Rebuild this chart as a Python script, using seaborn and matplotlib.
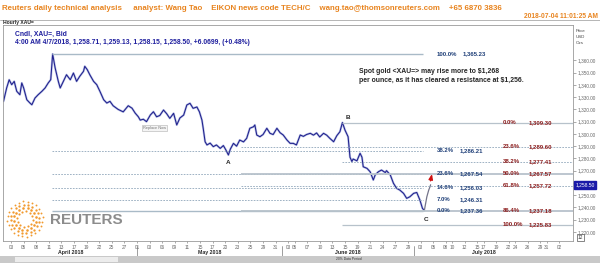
import numpy as np
import pandas as pd
import matplotlib.pyplot as plt
import seaborn as sns

# hourly XAU= bid, sampled from the chart; x = trading days since Mon 2 Apr 2018
t_day = [-0.2, 0.3, 0.7, 1.1, 1.5, 1.9, 2.4, 2.7, 3.0, 3.5, 4.0, 4.3, 4.8, 5.3, 5.9, 6.4,
         6.9, 7.3, 7.6, 8.0, 8.5, 8.8, 9.3, 9.8, 10.4, 10.9, 11.4, 11.9, 12.5, 12.7, 13.1,
         13.5, 14.1, 14.6, 15.1, 15.7, 16.2, 16.7, 17.2, 18.0, 18.8, 19.6, 20.2, 20.7, 21.2,
         21.5, 22.0, 22.5, 23.1, 23.6, 24.1, 24.6, 25.2, 25.7, 26.2, 26.8, 27.3, 27.8, 28.4,
         28.9, 29.4, 29.9, 30.5, 30.9, 31.3, 31.5, 31.8, 32.1, 32.6, 33.1, 33.6, 34.2, 34.7,
         35.1, 35.5, 35.8, 36.3, 36.8, 37.3, 37.9, 38.4, 38.9, 39.5, 39.7, 40.0, 40.5, 41.0,
         41.6, 42.1, 42.6, 43.2, 43.7, 44.2, 44.8, 45.3, 45.8, 46.3, 46.9, 47.4, 47.9, 48.5,
         49.0, 49.5, 50.0, 50.6, 51.1, 51.6, 52.2, 52.7, 53.2, 53.6, 54.0, 54.5, 54.8, 55.1,
         55.3, 55.9, 56.4, 56.7, 56.9, 57.5, 58.0, 58.5, 58.8, 59.3, 59.8, 60.4, 60.6, 61.2,
         61.7, 62.2, 62.7, 63.3, 63.8, 64.3, 64.9, 65.4, 65.9, 66.3, 66.6, 67.0, 67.3, 67.5,
         67.6]
price = [1326.6, 1337.5, 1344.2, 1340.2, 1342.9, 1334.8, 1332.0, 1341.6, 1337.5, 1327.9,
         1325.2, 1323.8, 1329.3, 1332.0, 1334.8, 1337.5, 1341.6, 1344.3, 1365.2, 1353.8,
         1342.9, 1337.5, 1342.9, 1348.3, 1344.2, 1349.7, 1342.9, 1347.0, 1351.1, 1355.2,
         1352.4, 1348.3, 1342.9, 1340.2, 1334.8, 1327.9, 1325.2, 1326.6, 1323.0, 1320.0,
         1318.0, 1323.0, 1321.0, 1317.0, 1314.0, 1311.3, 1312.0, 1310.0, 1315.4, 1318.1,
         1314.0, 1315.0, 1319.5, 1316.5, 1312.7, 1316.8, 1307.3, 1313.0, 1315.4, 1323.6,
         1325.0, 1320.9, 1322.0, 1318.0, 1311.3, 1304.6, 1293.6, 1291.0, 1292.5, 1289.6,
         1291.0, 1288.2, 1290.5, 1286.9, 1282.8, 1287.5, 1292.3, 1290.0, 1295.0, 1293.5,
         1296.4, 1304.6, 1305.9, 1307.3, 1299.1, 1297.7, 1299.5, 1304.6, 1300.5, 1299.5,
         1304.6, 1301.0, 1299.1, 1295.0, 1292.3, 1292.3, 1291.0, 1299.1, 1298.0, 1299.5,
         1300.5, 1299.0, 1300.8, 1297.5, 1300.5, 1299.0, 1296.4, 1293.6, 1298.5, 1301.8,
         1309.3, 1303.2, 1297.7, 1281.0, 1277.5, 1279.5, 1278.0, 1284.2, 1281.0, 1273.2,
         1271.9, 1269.1, 1262.4, 1266.5, 1269.1, 1270.5, 1268.5, 1270.0, 1266.5, 1259.7,
         1255.6, 1254.2, 1251.5, 1247.4, 1248.7, 1251.5, 1252.2, 1246.0, 1239.3, 1237.4,
         1248.7, 1254.2, 1256.9, 1258.5]
last_price = 1258.50

# Fibonacci set drawn from the April high down to the July low (blue labels)
fib1_pct = ["100.0%", "38.2%", "23.6%", "14.6%", "7.0%", "0.0%"]
fib1_val = [1365.23, 1286.21, 1267.54, 1256.03, 1246.31, 1237.36]
# Fibonacci set drawn from point B (red labels)
fib2_pct = ["0.0%", "23.6%", "38.2%", "50.0%", "61.8%", "86.4%", "100.0%"]
fib2_val = [1309.30, 1289.60, 1277.41, 1267.57, 1257.72, 1237.18, 1225.83]

wave_labels = ["A", "B", "C"]
wave_day = [35.5, 54.5, 66.9]
wave_price = [1277.0, 1313.8, 1230.5]

tick_dates = ["2018-04-03", "2018-04-05", "2018-04-08", "2018-04-11", "2018-04-13",
              "2018-04-17", "2018-04-19", "2018-04-22", "2018-04-25", "2018-04-27",
              "2018-05-01", "2018-05-03", "2018-05-06", "2018-05-09", "2018-05-11",
              "2018-05-15", "2018-05-17", "2018-05-20", "2018-05-23", "2018-05-25",
              "2018-05-29", "2018-05-31", "2018-06-03", "2018-06-05", "2018-06-07",
              "2018-06-10", "2018-06-13", "2018-06-15", "2018-06-19", "2018-06-21",
              "2018-06-24", "2018-06-27", "2018-06-29", "2018-07-03", "2018-07-05",
              "2018-07-08", "2018-07-10", "2018-07-12", "2018-07-15", "2018-07-17",
              "2018-07-19", "2018-07-22", "2018-07-24", "2018-07-26", "2018-07-29",
              "2018-07-31", "2018-08-02"]
months = ["April 2018", "May 2018", "June 2018", "July 2018"]
month_starts = ["2018-04-02", "2018-05-01", "2018-06-01", "2018-07-01", "2018-08-01"]
y_ticks = list(range(1220, 1361, 10))

ORANGE = "#e8841f"
NAVY = "#20208c"
FIB1_C = "#1f3f78"
FIB2_C = "#8c1c1c"
LINE_C = "#8fa6ba"

W, H = 600, 263


def px(x, y):
    return x / W, 1 - y / H


def trading_day(d):
    return np.busday_count("2018-04-02", d)


sns.set_style("white")
plt.rcParams["font.family"] = ["Liberation Sans", "DejaVu Sans"]

fig = plt.figure(figsize=(6, 2.63), dpi=100)
ax = fig.add_axes([3 / W, 1 - 241 / H, 570 / W, 216 / H])

df = pd.DataFrame({"day": t_day, "price": price})
i_low = int(np.argmin(price))
old = df.iloc[: i_low + 1]
new = df.iloc[i_low:]

# light halo under the line, like the candle bodies
sns.lineplot(data=old, x="day", y="price", ax=ax, color="#b9c1e6", lw=1.6, sort=False)
sns.lineplot(data=old, x="day", y="price", ax=ax, color=NAVY, lw=0.75, sort=False)
sns.lineplot(data=new, x="day", y="price", ax=ax, color="#74748a", lw=0.9, sort=False)

ax.set_xlim(-0.28, 90.2)
ax.set_ylim(1212.6, 1388.9)

# fib set 1: from the April high to line end around C
x1_start, x1_end = 7.5, 66.4
for pct, v in zip(fib1_pct, fib1_val):
    solid = pct in ("100.0%", "0.0%")
    ax.hlines(v, x1_start, x1_end, color="#a9bac7" if solid else LINE_C,
              lw=1.0 if solid else 0.6, linestyles="-" if solid else (0, (2, 1.5)))
    ax.text(68.6, v, pct, color=FIB1_C, fontsize=4.3, fontweight="bold", va="center")
    ax.text(72.7 if pct == "100.0%" else 72.2, v, f"{v:,.2f}", color=FIB1_C,
            fontsize=4.3, fontweight="bold", va="center")

# fib set 2: from B, running to the right edge
for pct, v in zip(fib2_pct, fib2_val):
    solid = pct in ("0.0%", "50.0%", "86.4%", "100.0%")
    start = 53.6 if pct in ("0.0%", "38.2%", "100.0%") else 37.5
    ax.hlines(v, start, 90.2, color="#b7c2cb" if solid else LINE_C,
              lw=1.3 if pct in ("50.0%", "86.4%") else (0.9 if solid else 0.6),
              linestyles="-" if solid else (0, (2, 1.5)))
    ax.text(79.1, v, pct, color=FIB2_C, fontsize=4.3, fontweight="bold", va="center")
    ax.text(83.1, v, f"{v:,.2f}", color=FIB2_C, fontsize=4.3, fontweight="bold",
            va="center")

for lab, d, p in zip(wave_labels, wave_day, wave_price):
    ax.text(d, p, lab, fontsize=4.6, fontweight="bold", ha="center", va="center")

ax.annotate("", xy=(67.9, 1269.5), xytext=(67.5, 1259.5),
            arrowprops=dict(arrowstyle="-|>,head_width=0.12,head_length=0.3",
                            color="#d01010", lw=1.0))

ax.text(56.3, 1347.5, "Spot gold <XAU=> may rise more to $1,268\n"
        "per ounce, as it has cleared a resistance at $1,256.",
        fontsize=4.95, fontweight="bold", va="center", linespacing=1.35)

# axes styling; the 1,260 label sits under the price tag, as in the source
ax.yaxis.tick_right()
ax.set_yticks(y_ticks)
ax.set_yticklabels(["" if v == 1260 else f"{v:,.2f}" for v in y_ticks])
ax.tick_params(axis="y", right=True, length=2, width=0.5, pad=1.5,
               labelsize=3.4, labelcolor="#666666", color="#888888")
xt = [trading_day(d) for d in tick_dates]
ax.set_xticks(xt)
ax.set_xticklabels([d[-2:] for d in tick_dates])
ax.tick_params(axis="x", bottom=True, length=1.5, width=0.5, pad=1.2,
               labelsize=3.4, labelcolor="#666666", color="#888888")
ax.set_xlabel("")
ax.set_ylabel("")
for s in ax.spines.values():
    s.set_color("#9a9a9a")
    s.set_linewidth(0.6)

ms = [trading_day(d) for d in month_starts]
for i, m in enumerate(months):
    ax.text((ms[i] + ms[i + 1]) / 2, -0.054, m, transform=ax.get_xaxis_transform(),
            fontsize=3.8, fontweight="bold", ha="center", va="center")
for m in ms[1:4]:
    ax.plot([m, m], [-0.023, -0.069], transform=ax.get_xaxis_transform(),
            color="#777777", lw=0.5, clip_on=False)

# current price tag
ax.text(1.004, last_price, f"{last_price:,.2f}", transform=ax.get_yaxis_transform(),
        fontsize=3.6, color="white", va="center", ha="left",
        bbox=dict(boxstyle="square,pad=0.25", fc="#1a1aa8", ec="#1a1aa8"))

# chart header texts
fig.text(*px(2, 8), "Reuters daily technical analysis     analyst: Wang Tao    "
         "EIKON news code TECH/C    wang.tao@thomsonreuters.com    +65 6870 3836",
         color=ORANGE, fontsize=5.7, fontweight="bold", va="center")
fig.text(*px(598, 17), "2018-07-04 11:01:25 AM", color=ORANGE, fontsize=4.8,
         fontweight="bold", ha="right", va="center")
fig.add_artist(plt.Line2D([0, 1], [1 - 19.5 / H] * 2, color="#aaaaaa", lw=0.6))
fig.text(*px(3, 22.5), "Hourly XAU=", fontsize=3.6, fontweight="bold", va="center")
fig.text(*px(15, 34.5), "Cndl, XAU=, Bid", color="#1e1e9e", fontsize=4.9,
         fontweight="bold", va="center")
fig.text(*px(15, 42.7), "4:00 AM 4/7/2018, 1,258.71, 1,259.13, 1,258.15, 1,258.50, "
         "+6.0699, (+0.48%)", color="#1e1e9e", fontsize=4.9, fontweight="bold",
         va="center")
fig.text(*px(576, 37), "Price\nUSD\nOzs", fontsize=3.2, color="#444444", va="center",
         linespacing=1.5)
fig.text(*px(143, 128), "Replace Now", fontsize=2.8, color="#777777", va="center",
         bbox=dict(boxstyle="square,pad=0.3", fc="#f4f4f4", ec="#b0b0b0", lw=0.4))
fig.text(*px(578, 237.5), "12", fontsize=3.4, color="#333333", va="center",
         bbox=dict(boxstyle="square,pad=0.2", fc="white", ec="#555555", lw=0.5))

# scroll bar along the bottom
fig.add_artist(plt.Rectangle(px(0, 263), 1, 7 / H, color="#c9c9c9", lw=0))
fig.add_artist(plt.Rectangle(px(15, 262), 103 / W, 5 / H, color="#ececec", lw=0))
fig.text(*px(336, 259.5), "20% Data Period", fontsize=2.4, color="#333333",
         va="center")

# Reuters logo: rings of orange dots
lax = fig.add_axes([5 / W, 1 - 239 / H, 40 / W, 40 / H])
lax.set_xlim(-1, 1)
lax.set_ylim(-1, 1)
lax.axis("off")
for r, n, s in zip([0.38, 0.55, 0.72, 0.88], [12, 16, 20, 24], [2.4, 3.4, 2.8, 1.8]):
    a = np.linspace(0, 2 * np.pi, n, endpoint=False) + r
    lax.scatter(r * np.cos(a), r * np.sin(a), s=s, color="#f29a2e", lw=0)
fig.text(*px(50, 220), "REUTERS", fontsize=11, fontweight="bold", color="#8c8c8c",
         va="center")

fig.savefig("out.png", dpi=100)
